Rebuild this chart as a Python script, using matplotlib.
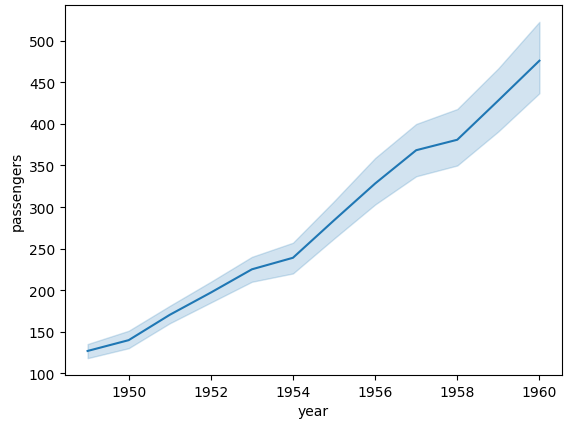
import numpy as np
import matplotlib
matplotlib.use("Agg")
from matplotlib import pyplot as plt

# yearly mean passengers with 95% CI band
years = [1949, 1950, 1951, 1952, 1953, 1954, 1955, 1956, 1957, 1958, 1959, 1960]
mean_passengers = [126.7, 139.7, 170.2, 197.0, 225.0, 238.9, 284.0, 328.3, 368.4, 381.0, 428.3, 476.2]
ci_low = [118, 130, 160, 185, 210, 220, 262, 303, 337, 350, 391, 437]
ci_high = [135, 151, 181, 210, 240, 257, 307, 359, 400, 418, 467, 523]

fig = plt.figure(figsize=(5.67, 4.27), dpi=100)
ax = fig.add_axes([65 / 567, 1 - 376 / 427, (562 - 65) / 567, (376 - 6) / 427])

ax.fill_between(years, ci_low, ci_high, color="#1f77b4", alpha=0.2, linewidth=1)
ax.plot(years, mean_passengers, color="#1f77b4", linewidth=1.5)

ax.set_xlabel("year")
ax.set_ylabel("passengers")

fig.savefig("out.png", dpi=100)
